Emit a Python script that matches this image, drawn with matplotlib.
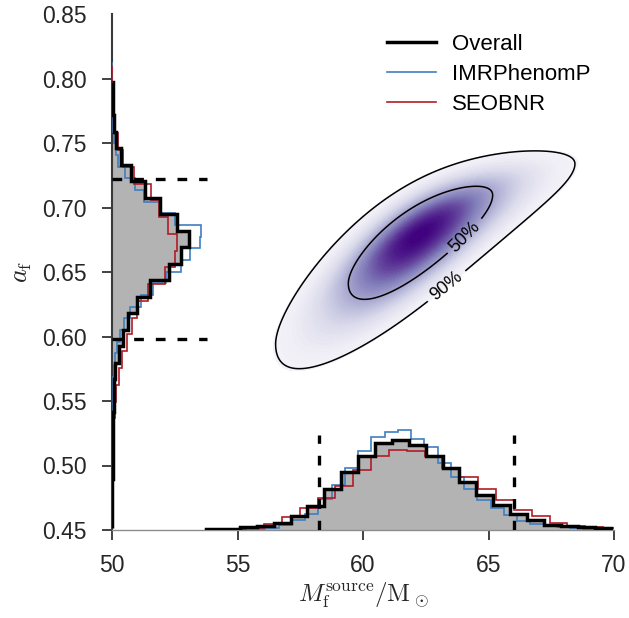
import numpy as np
import matplotlib
matplotlib.use("Agg")
import matplotlib.pyplot as plt
from matplotlib.lines import Line2D

plt.rcParams['font.family'] = ['Liberation Sans', 'DejaVu Sans']
plt.rcParams['mathtext.fontset'] = 'cm'
plt.rcParams['lines.scale_dashes'] = False

# ---------------- data ----------------
# final mass histograms (relative densities)
mf_black_edges = np.linspace(53.75, 69.9, 25)
mf_black = [0.7, 1.3, 2.7, 4, 7, 13.7, 23.7, 41, 57.7, 73.7, 87, 89.7, 84.7,
            74.3, 62, 47.7, 35, 25.3, 16.3, 10.3, 5.3, 3.7, 2.7, 1.7]
mf_imr_edges = np.linspace(54.0, 69.84, 31)
mf_imr = [0, 0.2, 0.3, 1.3, 2.3, 5, 10.3, 15.7, 31.3, 45, 62, 78.7, 93, 98,
          100.3, 91.3, 82.7, 67, 53, 41, 30.3, 22, 14.7, 8.7, 6.3, 4.3, 3, 2,
          1.3, 0.7]
mf_seob_edges = np.linspace(53.92, 70.28, 24)
mf_seob = [0.2, 1, 2, 5.7, 13.3, 21.7, 32, 44.3, 60.3, 73.7, 79.7, 78.7, 73.7,
           62, 53, 40.7, 30.3, 20.3, 13.7, 7, 4.3, 3, 1.7]

# final spin histograms (relative densities)
af_black_edges = np.linspace(0.4515, 0.7971, 28)
af_black = [0.1, 0.2, 0.3, 0.5, 0.7, 1, 1.2, 1.5, 2.3, 3.3, 6.7, 11, 15.7, 25,
            37.7, 56.7, 68.7, 77, 65.3, 47.7, 32.7, 18.7, 9.3, 4.3, 2, 1.3, 1]
af_imr_edges = np.linspace(0.4604, 0.8130, 40)
af_imr = [0.1, 0.1, 0.2, 0.2, 0.3, 0.3, 0.4, 0.5, 0.6, 0.7, 0.8, 1, 1.7, 3.3,
          5, 7.7, 12.3, 17.7, 28.7, 41, 54, 69, 77.7, 87.7, 88.7, 63, 48, 32,
          22.7, 13, 6, 4, 2, 1.3, 1, 0.7, 0.5, 0.3, 0.2]
af_seob_edges = np.linspace(0.4586, 0.8096, 28)
af_seob = [0.1, 0.2, 0.4, 0.6, 1, 1.5, 2.7, 4.3, 6.5, 10, 15, 20, 25, 36, 52.7,
           63.3, 65.3, 56, 47, 38.7, 22, 11, 6, 3, 1.5, 0.8, 0.4]

# 90% credible intervals
mf_interval = [58.26, 66.0]
af_interval = [0.598, 0.722]

# joint posterior summary:
#   M ~ Student-t(nu, M0, sM);  a|M ~ split normal around a curved ridge
joint_M0 = 62.0
joint_sM = 2.35
joint_nu = 6.0
ridge_coef = [0.676, 0.0122, -0.0005]   # mode at M0, slope, curvature
cond_s_up = 0.0195
cond_s_lo = 0.0255
cond_k = 0.049

credible_levels = [0.9, 0.5]
level_labels = ['90%', '50%']

# ---------------- style ----------------
blue = '#3f7fc0'
red = '#b01c28'
gray = '#b3b3b3'
dark = '#262626'

fig = plt.figure(figsize=(6.29, 6.18), dpi=100)
ax = fig.add_axes([112/629, 88/618, 502/629, 516/618])
ax.set_xlim(50, 70)
ax.set_ylim(0.45, 0.85)

# scale factors from relative density to axis units
sx = 1/1290.0   # x-histogram height in a_f units
sy = 1/25.1     # y-histogram width in M units
ybase = 0.45
xbase = 50.0

# ---------------- joint density ----------------
Mg, Ag = np.meshgrid(np.linspace(50, 70, 600), np.linspace(0.45, 0.85, 600))
dM = Mg - joint_M0
ridge = ridge_coef[0] + ridge_coef[1]*dM + ridge_coef[2]*dM**2
shrink = np.exp(-cond_k*dM)
s_up = cond_s_up*shrink
s_lo = cond_s_lo*shrink
sig = np.where(Ag > ridge, s_up, s_lo)
pM = (1 + (dM/joint_sM)**2/joint_nu)**(-(joint_nu + 1)/2)
dens = pM * 2/(s_up + s_lo) * np.exp(-0.5*((Ag - ridge)/sig)**2)
dmax = dens.max()
flat = np.sort(dens.ravel())[::-1]
cum = np.cumsum(flat) / flat.sum()
lev = [flat[np.searchsorted(cum, p)] for p in credible_levels]

ax.contourf(Mg, Ag, dens, levels=np.linspace(0.075*dmax, dmax, 60),
            cmap='Purples', vmin=0, vmax=dmax, zorder=0)
cs = ax.contour(Mg, Ag, dens, levels=lev, colors='k', linewidths=1.1, zorder=1)
ax.clabel(cs, fmt={lev[0]: level_labels[0], lev[1]: level_labels[1]},
          inline=True, fontsize=13, inline_spacing=6,
          manual=[(63.5, 0.635), (64.1, 0.677)])

# ---------------- marginal histograms ----------------
ax.stairs(ybase + np.array(mf_black)*sx, mf_black_edges, baseline=ybase,
          fill=True, color=gray, lw=0, zorder=2)
ax.stairs(ybase + np.array(mf_imr)*sx, mf_imr_edges, baseline=ybase,
          color=blue, lw=1.2, zorder=3)
ax.stairs(ybase + np.array(mf_seob)*sx, mf_seob_edges, baseline=ybase,
          color=red, lw=1.2, zorder=3)
ax.stairs(ybase + np.array(mf_black)*sx, mf_black_edges, baseline=ybase,
          color='k', lw=2.5, zorder=4)

ax.stairs(xbase + np.array(af_black)*sy, af_black_edges, baseline=xbase,
          orientation='horizontal', fill=True, color=gray, lw=0, zorder=2)
ax.stairs(xbase + np.array(af_imr)*sy, af_imr_edges, baseline=xbase,
          orientation='horizontal', color=blue, lw=1.2, zorder=3)
ax.stairs(xbase + np.array(af_seob)*sy, af_seob_edges, baseline=xbase,
          orientation='horizontal', color=red, lw=1.2, zorder=3)
ax.stairs(xbase + np.array(af_black)*sy, af_black_edges, baseline=xbase,
          orientation='horizontal', color='k', lw=2.5, zorder=4)

# credible interval markers
dash = (0, (7.0, 8.6))
for m in mf_interval:
    ax.plot([m, m], [ybase, 0.5236], color='k', lw=2.4, ls=dash, zorder=5)
for a in af_interval:
    ax.plot([xbase, 53.77], [a, a], color='k', lw=2.4, ls=dash, zorder=5)

# ---------------- axes styling ----------------
for s in ['top', 'right']:
    ax.spines[s].set_visible(False)
ax.spines['left'].set_color('#3a3a3a')
ax.spines['left'].set_linewidth(1.5)
ax.spines['bottom'].set_color('#8c8c8c')
ax.spines['bottom'].set_linewidth(1.0)

ax.set_xticks([50, 55, 60, 65, 70])
ax.set_yticks([0.45, 0.50, 0.55, 0.60, 0.65, 0.70, 0.75, 0.80, 0.85])
ax.set_yticklabels(['%.2f' % v for v in ax.get_yticks()])
ax.tick_params(direction='out', length=7, width=1.3, color='#333333',
               labelcolor=dark, labelsize=16.5)
ax.tick_params(axis='y', pad=11)
ax.tick_params(axis='x', pad=10)
ax.yaxis.get_major_ticks()[-1].tick1line.set_visible(False)

ax.set_xlabel(r'$M_\mathrm{f}^\mathrm{source}/\mathrm{M}_\odot$', fontsize=18,
              color=dark, labelpad=3)
ax.set_ylabel(r'$a_\mathrm{f}$', fontsize=19, color=dark, labelpad=6)

handles = [Line2D([], [], color='k', lw=2.5),
           Line2D([], [], color=blue, lw=1.2),
           Line2D([], [], color=red, lw=1.2)]
ax.legend(handles, ['Overall', 'IMRPhenomP', 'SEOBNR'], loc='upper left',
          bbox_to_anchor=(0.548, 0.962), frameon=False, fontsize=16,
          handlelength=2.2, handletextpad=0.72, labelspacing=0.42,
          borderpad=0, borderaxespad=0)

fig.savefig('out.png', dpi=100)
